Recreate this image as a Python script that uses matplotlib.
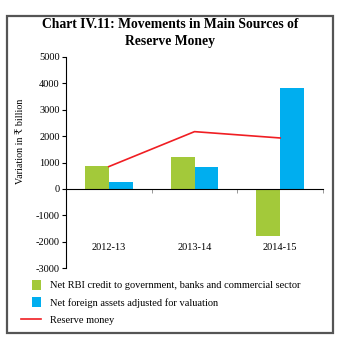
import matplotlib
matplotlib.use("Agg")
import matplotlib.pyplot as plt
import matplotlib.patches as mpatches
from matplotlib.legend_handler import HandlerPatch
from matplotlib.container import BarContainer
import numpy as np

# data (Rs billion)
years = ["2012-13", "2013-14", "2014-15"]
net_rbi_credit = [870, 1200, -1780]
net_foreign_assets = [265, 845, 3825]
reserve_money = [845, 2170, 1930]

GREEN = "#A3C93A"
BLUE = "#00AEEF"
RED = "#F01E23"
SERIF = ["Liberation Serif", "DejaVu Serif", "DejaVu Sans"]

plt.rcParams["font.family"] = SERIF

fig = plt.figure(figsize=(3.43, 3.45), dpi=100)

# outer grey frame
frame = mpatches.Rectangle((7 / 343, 1 - 333 / 345), 326 / 343, 317 / 345,
                           transform=fig.transFigure, fill=False,
                           edgecolor="#555555", linewidth=1.6)
fig.patches.append(frame)

fig.text(0.497, 1 - 24 / 345, "Chart IV.11: Movements in Main Sources of",
         ha="center", va="center", fontsize=9.8, fontweight="bold")
fig.text(0.497, 1 - 42 / 345, "Reserve Money",
         ha="center", va="center", fontsize=9.8, fontweight="bold")

ax = fig.add_axes([66 / 343, 1 - 268 / 345, 257 / 343, 211 / 345])

x = np.arange(len(years))
w = 0.28
ax.bar(x - w / 2, net_rbi_credit, w, color=GREEN,
       label="Net RBI credit to government, banks and commercial sector")
ax.bar(x + w / 2, net_foreign_assets, w, color=BLUE,
       label="Net foreign assets adjusted for valuation")
ax.plot(x, reserve_money, color=RED, linewidth=1.2, label="Reserve money")

ax.set_xlim(-0.5, 2.5)
ax.set_ylim(-3000, 5000)
ax.set_yticks(range(-3000, 5001, 1000))
ax.set_yticklabels([str(v) for v in range(-3000, 5001, 1000)])
ax.set_ylabel("Variation in \u20b9 billion", fontsize=7.2)
ax.yaxis.set_label_coords(-0.16, 0.6)

ax.spines["top"].set_visible(False)
ax.spines["right"].set_visible(False)
ax.spines["bottom"].set_position(("data", 0))
ax.spines["left"].set_linewidth(0.8)
ax.spines["bottom"].set_linewidth(0.8)

ax.set_xticks(x)
ax.set_xticklabels(years)
ax.set_xticks([0.5, 1.5, 2.5], minor=True)
ax.tick_params(axis="x", which="major", length=0, pad=39, labelsize=7.5)
ax.tick_params(axis="x", which="minor", length=3, direction="out", width=0.6,
               color="#888888")
ax.tick_params(axis="y", length=3, width=0.8, labelsize=7.5, pad=1.5)


def small_square(legend, orig_handle, xdescent, ydescent, width, height, fontsize):
    s = 7.0
    return mpatches.Rectangle((width - s - xdescent, -ydescent + (height - s) / 2),
                              s, s)


def first_child(legend_handle, orig_handle):
    legend_handle.update_from(orig_handle.patches[0])


handles, labels = ax.get_legend_handles_labels()
order = [1, 2, 0]
handles = [handles[i] for i in order]
labels = [labels[i] for i in order]
fig.legend(handles, labels, loc="upper left",
           bbox_to_anchor=(21 / 343, 1 - 281 / 345), frameon=False,
           fontsize=7.5, handlelength=1.95, handletextpad=0.85,
           labelspacing=0.75, borderpad=0, borderaxespad=0,
           handler_map={BarContainer: HandlerPatch(patch_func=small_square,
                                                   update_func=first_child)})

fig.savefig("out.png", dpi=100)
